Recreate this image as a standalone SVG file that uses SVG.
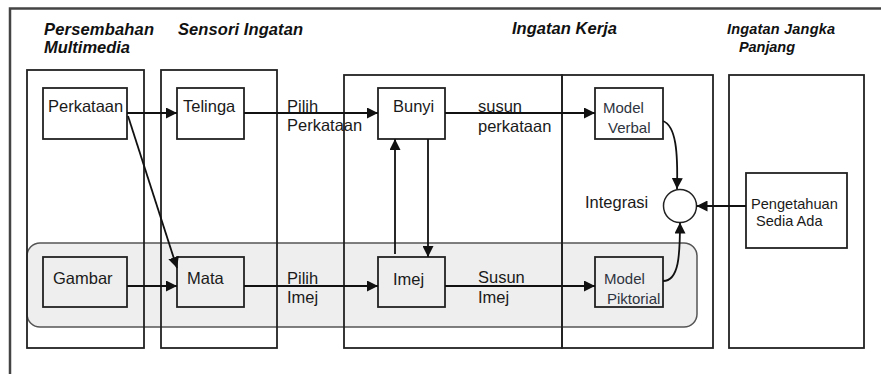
<svg xmlns="http://www.w3.org/2000/svg" width="881" height="374" viewBox="0 0 881 374">
<style>
.bg{fill:#ffffff}
.frame{fill:none;stroke:#444;stroke-width:2.5}
.col{fill:none;stroke:#222;stroke-width:1.8}
.node{fill:none;stroke:#222;stroke-width:1.8}
.band{fill:#eeeeee;stroke:#555;stroke-width:1.5}
.title{font-family:"Liberation Sans",Arial,sans-serif;font-weight:bold;font-style:italic;fill:#111;font-size:16.5px}
.t2{font-size:14.5px}
.lbl{font-family:"Liberation Sans",Arial,sans-serif;fill:#1a1a1a;font-size:16.5px}
.sm{font-size:15px;fill:#2e3440}
.conn{fill:none;stroke:#111;stroke-width:1.8}
</style>
<defs>
<marker id="ah" markerUnits="userSpaceOnUse" markerWidth="11" markerHeight="11" refX="11" refY="5.5" orient="auto" viewBox="0 0 11 11">
<path d="M0,0 L11,5.5 L0,11 z" fill="#111"/>
</marker>
</defs>
<rect class="bg" x="0" y="0" width="881" height="374"/>
<path class="frame" d="M10,374 L10,8.5 L881,8.5"/>

<g id="band-visual">
<rect class="band" x="27" y="243" width="670" height="84" rx="13"/>
</g>

<g id="col-persembahan">
<rect class="col" x="27" y="70" width="117" height="278"/>
<text class="title" x="44" y="35" textLength="110">Persembahan</text>
<text class="title" x="44" y="53" textLength="86">Multimedia</text>
</g>
<g id="col-sensori">
<rect class="col" x="161" y="70" width="116" height="278"/>
<text class="title" x="178" y="35" textLength="125">Sensori Ingatan</text>
</g>
<g id="col-kerja">
<rect class="col" x="344" y="75" width="218" height="273"/>
<rect class="col" x="562" y="75" width="151" height="273"/>
<text class="title" x="512" y="34" textLength="105">Ingatan Kerja</text>
</g>
<g id="col-jangka">
<rect class="col" x="729" y="75" width="135" height="273"/>
<text class="title t2" x="727" y="34" textLength="108">Ingatan Jangka</text>
<text class="title t2" x="739" y="52" textLength="56">Panjang</text>
</g>

<g id="n-perkataan">
<rect class="node" x="43" y="88" width="84" height="51"/>
<text class="lbl" x="48" y="112">Perkataan</text>
</g>
<g id="n-telinga">
<rect class="node" x="177" y="88" width="67" height="51"/>
<text class="lbl" x="183" y="112">Telinga</text>
</g>
<g id="n-bunyi">
<rect class="node" x="378" y="88" width="67" height="51"/>
<text class="lbl" x="393" y="112">Bunyi</text>
</g>
<g id="n-model-verbal">
<rect class="node" x="595" y="88" width="68" height="51"/>
<text class="lbl sm" x="603" y="113">Model</text>
<text class="lbl sm" x="608" y="133">Verbal</text>
</g>
<g id="n-gambar">
<rect class="node" x="43" y="257" width="84" height="50"/>
<text class="lbl" x="53" y="284">Gambar</text>
</g>
<g id="n-mata">
<rect class="node" x="177" y="257" width="67" height="50"/>
<text class="lbl" x="187" y="284">Mata</text>
</g>
<g id="n-imej">
<rect class="node" x="378" y="257" width="67" height="50"/>
<text class="lbl" x="393" y="285">Imej</text>
</g>
<g id="n-model-piktorial">
<rect class="node" x="595" y="257" width="68" height="50"/>
<text class="lbl sm" x="604" y="284">Model</text>
<text class="lbl sm" x="607" y="304">Piktorial</text>
</g>
<g id="n-integrasi">
<circle cx="680" cy="206" r="16.5" fill="#fff" stroke="#222" stroke-width="1.5"/>
<text class="lbl" x="585" y="208">Integrasi</text>
</g>
<g id="n-pengetahuan">
<rect class="node" x="746" y="173" width="101" height="75"/>
<text class="lbl" x="751" y="209" style="font-size:14.6px">Pengetahuan</text>
<text class="lbl" x="756" y="226" style="font-size:14.6px">Sedia Ada</text>
</g>

<g id="connectors">
<path class="conn" marker-end="url(#ah)" d="M127,113 L177,113"/>
<path class="conn" marker-end="url(#ah)" d="M128,116 L177,268"/>
<path class="conn" marker-end="url(#ah)" d="M244,113 L378,113"/>
<path class="conn" marker-end="url(#ah)" d="M127,286 L177,286"/>
<path class="conn" marker-end="url(#ah)" d="M244,286 L378,286"/>
<path class="conn" marker-end="url(#ah)" d="M445,113 L595,113"/>
<path class="conn" marker-end="url(#ah)" d="M445,286 L595,286"/>
<path class="conn" marker-end="url(#ah)" d="M395,254 L395,139"/>
<path class="conn" marker-end="url(#ah)" d="M428,139 L428,257"/>
<path class="conn" marker-end="url(#ah)" d="M663,121 C676,126 678,152 677,189"/>
<path class="conn" marker-end="url(#ah)" d="M663,281 C679,281 680,255 680,222.5"/>
<path class="conn" marker-end="url(#ah)" d="M746,206 L696.5,206"/>
</g>
<g id="edge-labels">
<text class="lbl" x="287" y="112">Pilih</text>
<text class="lbl" x="287" y="131">Perkataan</text>
<text class="lbl" x="287" y="284">Pilih</text>
<text class="lbl" x="287" y="303">Imej</text>
<text class="lbl" x="478" y="112">susun</text>
<text class="lbl" x="478" y="132">perkataan</text>
<text class="lbl" x="478" y="283">Susun</text>
<text class="lbl" x="478" y="303">Imej</text>
</g>
</svg>
